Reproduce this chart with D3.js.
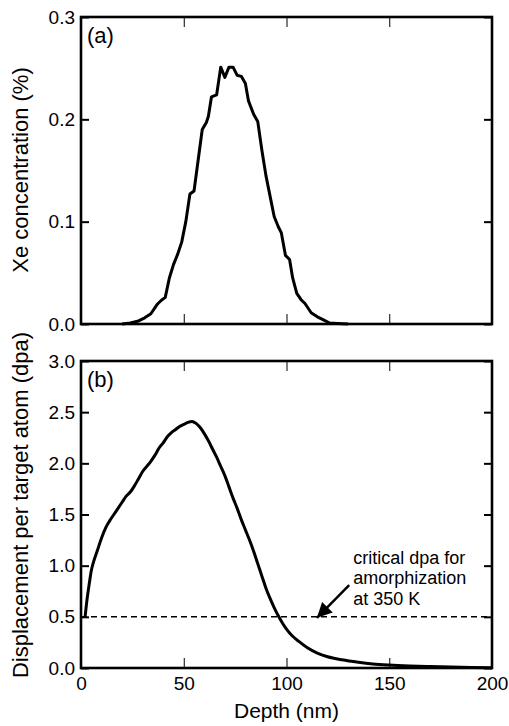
<!DOCTYPE html>
<html>
<head>
<meta charset="utf-8">
<script src="https://cdn.jsdelivr.net/npm/d3@7"></script>
<style>
body{margin:0;background:#fff;}
svg{display:block;font-family:"Liberation Sans",Arial,Helvetica,sans-serif;}
.tick text{font-size:19px;fill:#000;}
</style>
</head>
<body>
<svg id="myGraph" width="509" height="726"></svg>
<script>
// panel (a) Xe concentration profile
var xeDepth = [20,24,28,31,34,37,39,41,43,45,47,49,51,53,55,57,59,61,62,63.5,66,68,70,72,74,76,78,80,81.5,84,86,88,90,92,94,96,97.5,99.5,101.5,103,105,107,109,112,115,118,121,125,130];
var xeConc  = [0,0.001,0.003,0.006,0.01,0.019,0.023,0.026,0.045,0.058,0.068,0.08,0.1,0.127,0.13,0.16,0.19,0.197,0.203,0.222,0.224,0.251,0.241,0.251,0.251,0.243,0.242,0.235,0.218,0.205,0.198,0.17,0.145,0.125,0.105,0.095,0.089,0.067,0.063,0.045,0.03,0.024,0.02,0.011,0.007,0.004,0.001,0.0005,0];

// panel (b) displacement damage
var dpaDepth = [2,3,4,5,6,8,10,12,14,16,18,20,22,24,26,28,30,32,34,36,38,40,42,44,46,48,50,52,54,56,58,60,62,64,66,68,70,72,74,76,78,80,82,84,86,88,90,92,94,96,98,100,103,106,110,115,120,127,135,142,150,160,170,180,190,200];
var dpaVals  = [0.5,0.68,0.82,0.95,1.03,1.15,1.27,1.37,1.44,1.5,1.56,1.62,1.68,1.72,1.78,1.85,1.92,1.97,2.02,2.08,2.15,2.2,2.26,2.3,2.33,2.36,2.38,2.4,2.41,2.39,2.35,2.29,2.22,2.14,2.06,1.97,1.88,1.77,1.66,1.56,1.45,1.35,1.25,1.14,1.02,0.9,0.78,0.68,0.59,0.51,0.44,0.38,0.31,0.26,0.2,0.145,0.11,0.08,0.056,0.04,0.029,0.02,0.014,0.009,0.005,0.002];

var xTicks = [0,50,100,150,200];
var yTicksA = [0,0.1,0.2,0.3];
var yTicksB = [0,0.5,1.0,1.5,2.0,2.5,3.0];
var criticalDpa = 0.5;
var noteLines = ["critical dpa for","amorphization","at 350 K"];

var svg = d3.select("#myGraph");
var left = 81, right = 492;
var x = d3.scaleLinear().domain([0,200]).range([left,right]);
var yA = d3.scaleLinear().domain([0,0.3]).range([324,17]);
var yB = d3.scaleLinear().domain([0,3]).range([668,361]);

function drawPanel(y, yTicks, showX, label, ytitle, titleY){
	var top = y.range()[1], bottom = y.range()[0];

	var gl = svg.append("g").attr("transform","translate("+left+",0)")
		.call(d3.axisLeft(y).tickValues(yTicks).tickSize(-8).tickPadding(6).tickFormat(d3.format(".1f")));
	gl.select(".domain").remove();
	gl.selectAll("line").attr("stroke-width",2);

	var gr = svg.append("g").attr("transform","translate("+right+",0)")
		.call(d3.axisRight(y).tickValues(yTicks).tickSize(-8).tickFormat(""));
	gr.select(".domain").remove();
	gr.selectAll("line").attr("stroke-width",2);

	var gt = svg.append("g").attr("transform","translate(0,"+top+")")
		.call(d3.axisTop(x).tickValues([50,100,150]).tickSize(-10).tickFormat(""));
	gt.select(".domain").remove();

	var gb = svg.append("g").attr("transform","translate(0,"+bottom+")")
		.call(d3.axisBottom(x).tickValues(showX ? xTicks : [50,100,150]).tickSize(-10).tickPadding(9));
	gb.select(".domain").remove();
	if(!showX) gb.selectAll("text").remove();
	gb.selectAll("line").filter(function(d){return d==0||d==200;}).remove();

	svg.append("rect")
		.attr("x",left).attr("y",top)
		.attr("width",right-left).attr("height",bottom-top)
		.attr("fill","none").attr("stroke","#000").attr("stroke-width",2.6);

	svg.append("text").attr("x",left+6).attr("y",top+26)
		.style("font-size","22px").text(label);

	svg.append("text")
		.attr("transform","translate(28,"+titleY+") rotate(-90)")
		.attr("text-anchor","middle").style("font-size","22px").text(ytitle);
}

drawPanel(yA, yTicksA, false, "(a)", "Xe concentration (%)", 170);
drawPanel(yB, yTicksB, true, "(b)", "Displacement per target atom (dpa)", 505);

var lineA = d3.line().x(function(d,i){return x(xeDepth[i]);}).y(function(d){return yA(d);});
svg.append("path").datum(xeConc).attr("d",lineA)
	.attr("fill","none").attr("stroke","#000").attr("stroke-width",3).attr("stroke-linejoin","round");

var lineB = d3.line().curve(d3.curveMonotoneX).x(function(d,i){return x(dpaDepth[i]);}).y(function(d){return yB(d);});
svg.append("path").datum(dpaVals).attr("d",lineB)
	.attr("fill","none").attr("stroke","#000").attr("stroke-width",3).attr("stroke-linejoin","round");

// critical dpa line
svg.append("line")
	.attr("x1",x(0)).attr("x2",x(200))
	.attr("y1",yB(criticalDpa)).attr("y2",yB(criticalDpa))
	.attr("stroke","#000").attr("stroke-width",1.5).attr("stroke-dasharray","6,4");

// note + arrow
svg.append("defs").append("marker")
	.attr("id","head").attr("viewBox","0 0 10 10").attr("refX",10).attr("refY",5)
	.attr("markerWidth",7).attr("markerHeight",6).attr("orient","auto")
	.append("path").attr("d","M0,0L10,5L0,10z").attr("fill","#000");

svg.append("line")
	.attr("x1",x(130.5)).attr("y1",yB(0.81))
	.attr("x2",x(114.8)).attr("y2",yB(criticalDpa)+1)
	.attr("stroke","#000").attr("stroke-width",2.5).attr("marker-end","url(#head)");

svg.append("text").attr("x",x(132.5)).attr("y",yB(1.02))
	.style("font-size","18px")
	.selectAll("tspan").data(noteLines).enter().append("tspan")
	.attr("x",x(132.5)).attr("dy",function(d,i){return i==0?0:20.5;})
	.text(function(d){return d;});

svg.append("text").attr("x",(left+right)/2).attr("y",718)
	.attr("text-anchor","middle").style("font-size","21px").text("Depth (nm)");
</script>
</body>
</html>
